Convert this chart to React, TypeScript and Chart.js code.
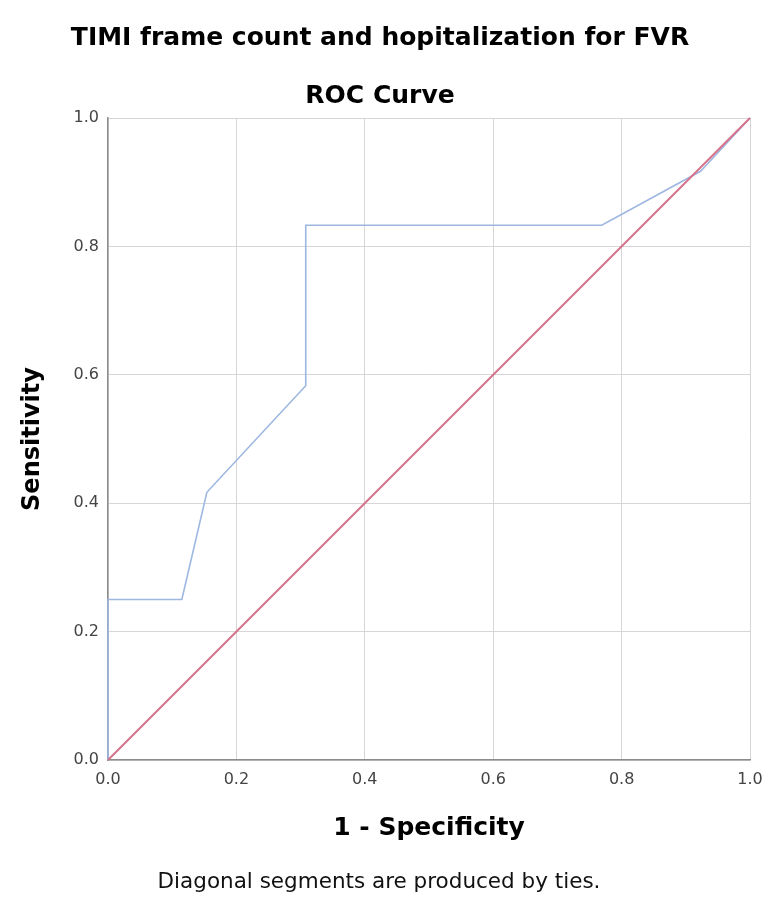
import React, { useEffect, useRef } from "react";
import { Chart, registerables } from "chart.js";

Chart.register(...registerables);

const mainTitle = "TIMI frame count and hopitalization for FVR";
const subTitle = "ROC Curve";
const xAxisTitle = "1 - Specificity";
const yAxisTitle = "Sensitivity";
const footnote = "Diagonal segments are produced by ties.";

// ROC curve points (1 - specificity, sensitivity)
const rocFpr = [0, 0, 0.115, 0.154, 0.308, 0.308, 0.769, 0.923, 1];
const rocTpr = [0, 0.25, 0.25, 0.417, 0.583, 0.833, 0.833, 0.917, 1];
// Reference diagonal
const diagX = [0, 1];
const diagY = [0, 1];
const tickValues = [0, 0.2, 0.4, 0.6, 0.8, 1.0];

const FONT = "'DejaVu Sans', sans-serif";

export default function App() {
  const ref = useRef<HTMLCanvasElement | null>(null);

  useEffect(() => {
    if (!ref.current) return;
    const footnotePlugin = {
      id: "footnote",
      afterDraw(chart: any) {
        const ctx = chart.ctx;
        ctx.save();
        ctx.font = `21.5px ${FONT}`;
        ctx.fillStyle = "#111";
        ctx.textAlign = "center";
        ctx.textBaseline = "middle";
        ctx.fillText(footnote, 379, 882);
        ctx.restore();
      },
    };
    const chart = new Chart(ref.current, {
      type: "line",
      data: {
        datasets: [
          {
            label: "Reference Line",
            data: diagX.map((x, i) => ({ x, y: diagY[i] })),
            borderColor: "#d6728a",
            borderWidth: 2,
            pointRadius: 0,
            tension: 0,
            clip: false as any,
          },
          {
            label: "ROC",
            data: rocFpr.map((x, i) => ({ x, y: rocTpr[i] })),
            borderColor: "#9db7e0",
            borderWidth: 1.6,
            pointRadius: 0,
            tension: 0,
            clip: false as any,
          },
        ],
      },
      options: {
        responsive: false,
        animation: false,
        devicePixelRatio: 1,
        layout: {
          padding: { left: 10, right: 30, top: 0, bottom: 0 },
          autoPadding: false,
        },
        plugins: {
          legend: { display: false },
          tooltip: { enabled: false },
          title: {
            display: true,
            text: mainTitle,
            color: "#000",
            font: { family: FONT, size: 25, weight: "bold" },
            padding: { top: 23, bottom: 0 },
          },
          subtitle: {
            display: true,
            text: subTitle,
            color: "#000",
            font: { family: FONT, size: 25, weight: "bold" },
            padding: { top: 28, bottom: 7 },
          },
        },
        scales: {
          x: {
            type: "linear",
            min: 0,
            max: 1,
            afterBuildTicks(scale: any) {
              scale.ticks = tickValues.map((v) => ({ value: v }));
            },
            afterFit(scale: any) {
              scale.height = 159;
            },
            ticks: {
              color: "#444",
              font: { family: FONT, size: 16 },
              padding: 10,
              callback: (v: any) => Number(v).toFixed(1),
            },
            grid: { color: "#d6d6d6", lineWidth: 1, drawTicks: false },
            border: { color: "#8c8c8c", width: 1.5 },
            title: {
              display: true,
              text: xAxisTitle,
              color: "#000",
              font: { family: FONT, size: 25, weight: "bold" },
              padding: { top: 0, bottom: 76 },
            },
          },
          y: {
            type: "linear",
            min: 0,
            max: 1,
            afterBuildTicks(scale: any) {
              scale.ticks = tickValues.map((v) => ({ value: v }));
            },
            afterFit(scale: any) {
              scale.width = 98;
            },
            ticks: {
              color: "#444",
              font: { family: FONT, size: 16 },
              padding: 9,
              callback: (v: any) => Number(v).toFixed(1),
            },
            grid: { color: "#d6d6d6", lineWidth: 1, drawTicks: false },
            border: { color: "#8c8c8c", width: 1.5 },
            title: {
              display: true,
              text: yAxisTitle,
              color: "#000",
              font: { family: FONT, size: 24, weight: "bold" },
              padding: { top: 8, bottom: 0 },
            },
          },
        },
      },
      plugins: [footnotePlugin],
    });
    return () => chart.destroy();
  }, []);

  return (
    <div style={{ position: "absolute", left: 0, top: 0, width: 780, height: 919, background: "#fff" }}>
      <canvas ref={ref} width={780} height={919} style={{ display: "block" }} />
    </div>
  );
}
